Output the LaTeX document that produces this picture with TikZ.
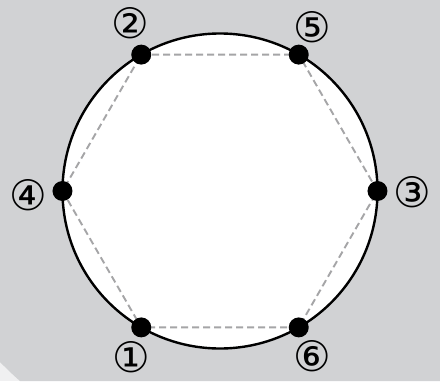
\documentclass[tikz,border=0pt]{standalone}
\usepackage{fontspec}
\newfontfamily\numfont{DejaVu Sans}
\definecolor{bggray}{RGB}{209,210,212}
\definecolor{cornergray}{RGB}{240,240,241}
\definecolor{dashgray}{RGB}{165,165,167}
\tikzset{
  vertex/.style={circle, fill=black, inner sep=0pt, minimum size=20pt},
  num/.style={font=\numfont\fontsize{42}{42}\selectfont, inner sep=0pt},
  hexline/.style={dashgray, line width=1.9pt, dash pattern=on 7pt off 4pt},
}

\begin{document}
\begin{tikzpicture}[x=1pt,y=1pt]

% fons
\useasboundingbox (-220,-190) rectangle (220,191);
\fill[cornergray] (-220,-190) rectangle (220,191);
\fill[bggray] (-220,191) -- (220,191) -- (220,-190) -- (-200,-190)
    .. controls (-209,-182) .. (-220,-171) -- cycle;

% circumferència
\draw[
    line width=2.4pt,
    fill=white
] (0,0) circle (157.5);

% vèrtexs
\foreach \n/\a in {3/0, 5/60, 2/120, 4/180, 1/240, 6/300}
    \coordinate (c\n) at (\a:157.5);

% hexàgon
\draw[hexline] (c2) -- (c5) -- (c3) -- (c6) -- (c1) -- (c4) -- cycle;

% punts
\foreach \n in {1,...,6}
    \node[vertex] (v\n) at (c\n) {};

% nombres
\node[num] (l1) at (-89,-166) {①};
\node[num] (l2) at (-90,168) {②};
\node[num] (l3) at (192,-1) {③};
\node[num] (l4) at (-192,-4) {④};
\node[num] (l5) at (92,164) {⑤};
\node[num] (l6) at (92,-165) {⑥};

\end{tikzpicture}
\end{document}
